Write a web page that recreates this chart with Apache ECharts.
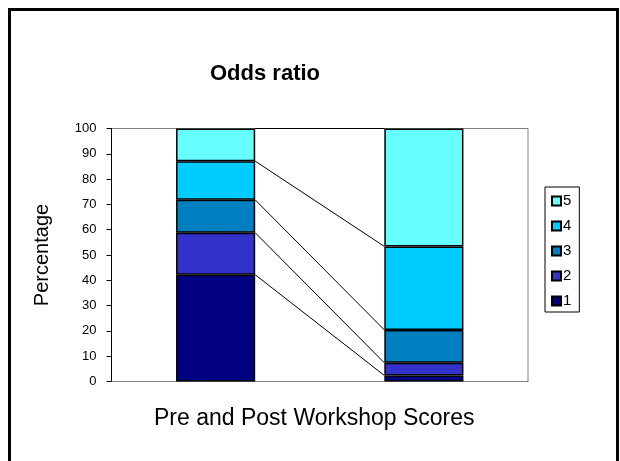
<!DOCTYPE html>
<html>
<head>
<meta charset="utf-8">
<script src="https://cdn.jsdelivr.net/npm/echarts@6/dist/echarts.min.js"></script>
<style>
html,body{margin:0;padding:0;background:#fff;}
#chart{width:620px;height:461px;}
</style>
</head>
<body>
<div id="chart"></div>
<script>
var categories = ['Pre', 'Post'];
var seriesNames = ['1', '2', '3', '4', '5'];
var preValues = [42.2, 16.6, 13.0, 15.3, 12.9];
var postValues = [2.4, 5.0, 13.0, 33.0, 46.6];
var colors = ['#000080', '#3333CC', '#0080C0', '#00CCFF', '#66FFFF'];
var yTicks = [0, 10, 20, 30, 40, 50, 60, 70, 80, 90, 100];

var FONT = '"Liberation Sans", Arial, sans-serif';

// cumulative tops for series lines
var seriesLineData = [];
var cPre = 0, cPost = 0;
for (var i = 0; i < seriesNames.length; i++) {
  cPre += preValues[i];
  cPost += postValues[i];
  seriesLineData.push([0, cPre, cPost]);
}

var BAR_RATIO = 0.38;

var series = seriesNames.map(function (name, i) {
  return {
    name: name,
    type: 'bar',
    stack: 'total',
    barWidth: (BAR_RATIO * 100) + '%',
    data: [preValues[i], postValues[i]],
    itemStyle: { color: colors[i], borderColor: '#000', borderWidth: 1.5 },
    emphasis: { disabled: true },
    z: 3
  };
});

series.push({
  type: 'custom',
  name: 'seriesLines',
  coordinateSystem: 'cartesian2d',
  encode: { x: 0, y: 1 },
  data: seriesLineData,
  silent: true,
  z: 2,
  renderItem: function (params, api) {
    var p0 = api.coord([0, api.value(1)]);
    var p1 = api.coord([1, api.value(2)]);
    var band = api.size([1, 0])[0];
    var half = band * BAR_RATIO / 2;
    return {
      type: 'line',
      shape: { x1: p0[0] + half, y1: p0[1], x2: p1[0] - half, y2: p1[1] },
      style: { stroke: '#000', lineWidth: 1 }
    };
  }
});

var chart = echarts.init(document.getElementById('chart'), null, { renderer: 'canvas' });
chart.setOption({
  animation: false,
  backgroundColor: '#fff',
  textStyle: { fontFamily: FONT },
  title: {
    text: 'Odds ratio',
    left: 210,
    top: 63,
    padding: 0,
    textStyle: { fontFamily: FONT, fontSize: 22, fontWeight: 'bold', color: '#000' }
  },
  legend: {
    orient: 'vertical',
    left: 545,
    top: 187,
    data: ['5', '4', '3', '2', '1'],
    icon: 'rect',
    itemWidth: 9,
    itemHeight: 9,
    itemGap: 7,
    padding: [5, 8, 2, 6],
    borderColor: '#000',
    borderWidth: 1,
    backgroundColor: '#fff',
    selectedMode: false,
    textStyle: { fontFamily: FONT, fontSize: 15, color: '#000', lineHeight: 15, padding: [3, 0, 0, -3] }
  },
  grid: {
    left: 111.5,
    top: 128.5,
    right: 92,
    bottom: 79.5,
    show: true,
    borderColor: '#808080',
    borderWidth: 1,
    backgroundColor: '#fff'
  },
  xAxis: {
    type: 'category',
    data: categories,
    name: 'Pre and Post Workshop Scores',
    nameLocation: 'middle',
    nameGap: 26,
    nameTextStyle: { fontFamily: FONT, fontSize: 23, color: '#000', padding: [0, 11, 0, 0] },
    axisLine: { show: true, lineStyle: { color: '#808080', width: 1 } },
    axisTick: { show: false },
    axisLabel: { show: false },
    splitLine: { show: false }
  },
  yAxis: {
    type: 'value',
    min: yTicks[0],
    max: yTicks[yTicks.length - 1],
    interval: 10,
    name: 'Percentage',
    nameLocation: 'middle',
    nameRotate: 90,
    nameGap: 59,
    nameTextStyle: { fontFamily: FONT, fontSize: 20, color: '#000' },
    axisLine: { show: true, lineStyle: { color: '#000', width: 1 } },
    axisTick: { show: true, inside: false, length: 5, lineStyle: { color: '#000' } },
    axisLabel: { fontFamily: FONT, fontSize: 13, color: '#000', margin: 15 },
    splitLine: { show: false }
  },
  graphic: [{
    type: 'rect',
    shape: { x: 9.5, y: 9.5, width: 608, height: 470 },
    style: { fill: null, stroke: '#000', lineWidth: 3 },
    silent: true,
    z: 100
  }],
  series: series
});
</script>
</body>
</html>
